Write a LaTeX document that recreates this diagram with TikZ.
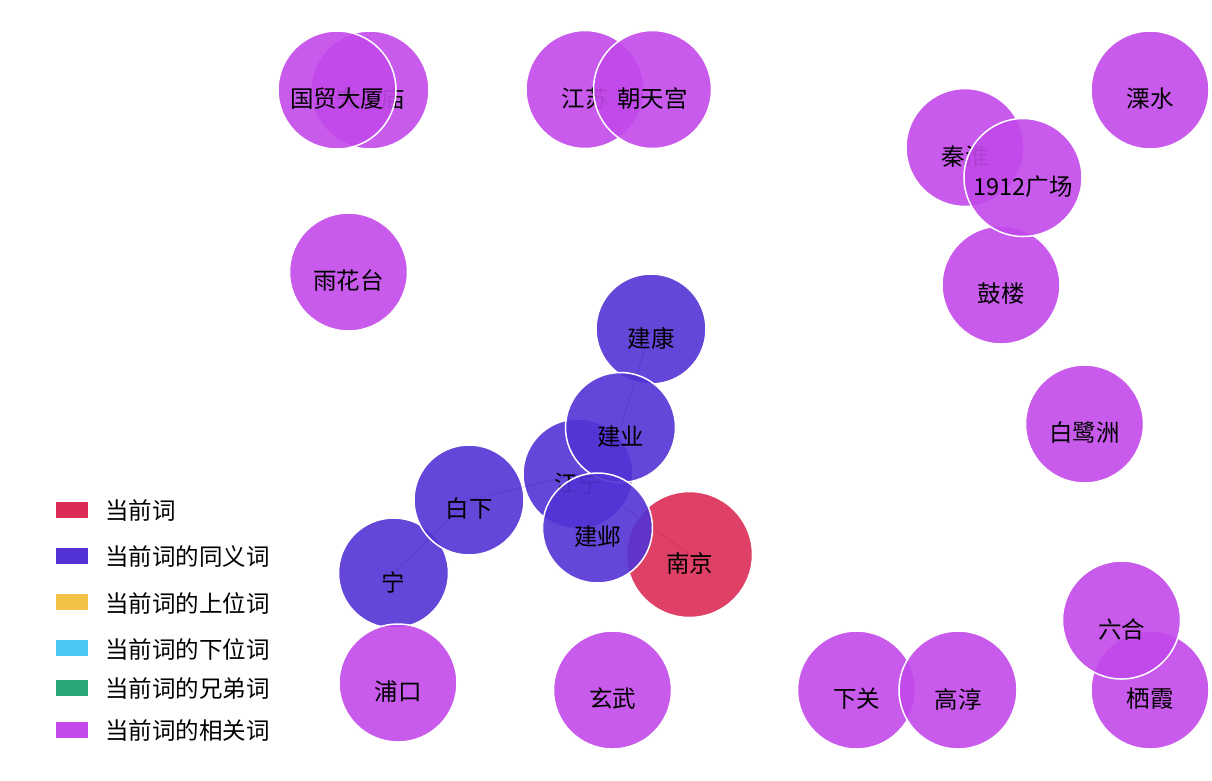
\documentclass[tikz,border=0pt]{standalone}
\usepackage{fontspec}
\setmainfont{Noto Sans CJK SC}
\pgfdeclarelayer{bg}
\pgfsetlayers{bg,main}
\definecolor{cCur}{HTML}{DB2C55}
\definecolor{cSyn}{HTML}{5332D5}
\definecolor{cHyper}{HTML}{F2C244}
\definecolor{cHypo}{HTML}{4BC7F1}
\definecolor{cSib}{HTML}{2BA877}
\definecolor{cRel}{HTML}{C249EA}
\definecolor{cEdge}{HTML}{4A3A90}
\tikzset{
  bubble/.style={circle, inner sep=0pt, minimum size=#1, draw=white, line width=1.5pt, fill opacity=0.9},
  cur/.style={bubble=126pt, fill=cCur},
  syn/.style={bubble=110pt, fill=cSyn},
  rel/.style={bubble=118pt, fill=cRel},
  lbl/.style={inner sep=0pt, font=\fontsize{23.5}{28}\selectfont, text=black},
  legbox/.style={inner sep=0pt, minimum width=32pt, minimum height=16pt},
  legtxt/.style={inner sep=0pt, anchor=west, font=\fontsize{23.5}{28}\selectfont, text=black},
  edge/.style={draw=cEdge, line width=1.3pt, draw opacity=0.45}
}
\newcommand\bub[5]{%
  \node[#4] (#1) at (#2,#3) {};
  \node[lbl] (#1-t) at ([yshift=-9pt]#1.center) {#5};
}
\begin{document}
\begin{tikzpicture}[x=1pt,y=-1pt]
\useasboundingbox (0,0) rectangle (1212,780);
% synonyms and current word
\bub{nanjing}{689.5}{554.5}{cur}{南京}
\bub{jiangning}{578}{474}{syn}{江宁}
\bub{jiankang}{651}{329}{syn}{建康}
\bub{jianye}{620.5}{427.5}{syn}{建业}
\bub{ning}{393.5}{573}{syn}{宁}
\bub{baixia}{469}{500}{syn}{白下}
\bub{jianye2}{597.5}{528}{syn}{建邺}
% related words
\bub{fuzimiao}{370}{90}{rel}{夫子庙}
\bub{guomao}{337}{90}{rel}{国贸大厦}
\bub{jiangsu}{585}{89.5}{rel}{江苏}
\bub{chaotiangong}{652.5}{89.5}{rel}{朝天宫}
\bub{lishui}{1150}{90}{rel}{溧水}
\bub{qinhuai}{965}{147.5}{rel}{秦淮}
\bub{gulou}{1001}{285}{rel}{鼓楼}
\bub{plaza}{1023}{177.5}{rel}{1912广场}
\bub{yuhuatai}{348.5}{272}{rel}{雨花台}
\bub{bailuzhou}{1084.5}{424}{rel}{白鹭洲}
\bub{pukou}{398}{683}{rel}{浦口}
\bub{xuanwu}{612.5}{690}{rel}{玄武}
\bub{xiaguan}{856.5}{690}{rel}{下关}
\bub{gaochun}{958}{690}{rel}{高淳}
\bub{qixia}{1150}{690}{rel}{栖霞}
\bub{liuhe}{1121.5}{620}{rel}{六合}
% edges
\begin{pgfonlayer}{bg}
\draw[edge] (ning.center) -- (baixia.center);
\draw[edge] (baixia.center) -- (jiangning.center);
\draw[edge] (jiangning.center) -- (nanjing.center);
\draw[edge] (jiankang.center) -- (jianye.center);
\end{pgfonlayer}
% legend
\node[legbox, fill=cCur] (l1) at (72,510) {};
\node[legtxt] (t1) at ([xshift=17pt,yshift=-1pt]l1.east) {当前词};
\node[legbox, fill=cSyn] (l2) at (72,556) {};
\node[legtxt] (t2) at ([xshift=17pt,yshift=-1pt]l2.east) {当前词的同义词};
\node[legbox, fill=cHyper] (l3) at (72,602) {};
\node[legtxt] (t3) at ([xshift=17pt,yshift=-1pt]l3.east) {当前词的上位词};
\node[legbox, fill=cHypo] (l4) at (72,648) {};
\node[legtxt] (t4) at ([xshift=17pt,yshift=-1pt]l4.east) {当前词的下位词};
\node[legbox, fill=cSib] (l5) at (72,688) {};
\node[legtxt] (t5) at ([xshift=17pt,yshift=-1pt]l5.east) {当前词的兄弟词};
\node[legbox, fill=cRel] (l6) at (72,730) {};
\node[legtxt] (t6) at ([xshift=17pt,yshift=-1pt]l6.east) {当前词的相关词};
\end{tikzpicture}
\end{document}
